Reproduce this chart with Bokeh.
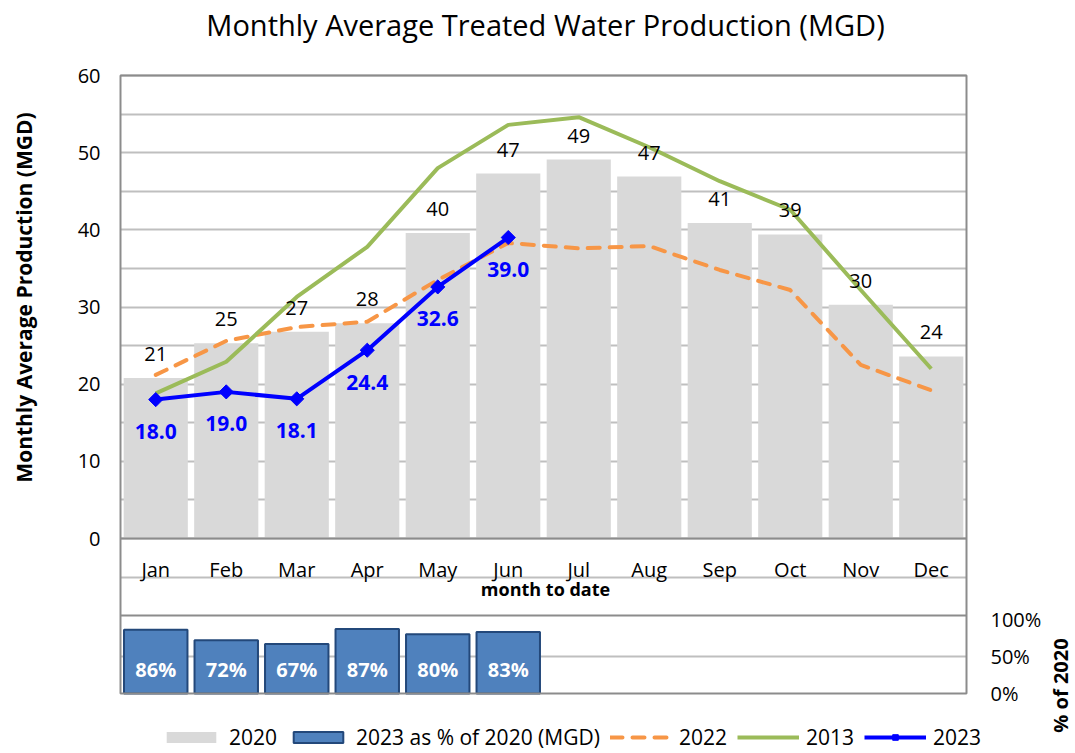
import math
from bokeh.plotting import figure
from bokeh.models import Range1d, FixedTicker, Label, Legend, LegendItem
from bokeh.core.properties import value
from bokeh.embed import file_html
from bokeh.resources import INLINE

# ---------------- data ----------------
months = ["Jan", "Feb", "Mar", "Apr", "May", "Jun", "Jul", "Aug", "Sep", "Oct", "Nov", "Dec"]
prod_2020 = [20.8, 25.3, 26.8, 27.9, 39.6, 47.3, 49.1, 46.9, 40.9, 39.4, 30.3, 23.6]
prod_2022 = [21.2, 25.6, 27.4, 28.1, 33.5, 38.3, 37.6, 37.9, 34.8, 32.2, 22.5, 19.2]
prod_2013 = [18.8, 22.9, 31.3, 37.8, 48.0, 53.6, 54.6, 50.7, 46.3, 42.6, 32.2, 22.0]
prod_2023 = [18.0, 19.0, 18.1, 24.4, 32.6, 39.0]
pct_2023_of_2020 = [86, 72, 67, 87, 80, 83]
y_ticks = [0, 10, 20, 30, 40, 50, 60]
grid_ticks = [0, 5, 10, 15, 20, 25, 30, 35, 40, 45, 50, 55, 60]
pct_ticks = [0, 50, 100]
pct_tick_labels = ["0%", "50%", "100%"]

# ---------------- geometry (canvas pixels) ----------------
FONT = "Open Sans"
W, H = 1075, 753
BOX_L, BOX_R, BOX_T, BOX_B = 120, 966, 75, 693   # outer box of the chart
ZERO_Y = 538                                      # pixel row of value 0
YMAX = 60
PX_PER_UNIT = (ZERO_Y - BOX_T) / YMAX
PCT_PX = 74.0                                     # pixels per 100 %
CAT_PX = (BOX_R - BOX_L) / len(months)


def main_y(px):
    return (ZERO_Y - px) / PX_PER_UNIT


def pct_y(px):
    return (BOX_B - px) / PCT_PX * 100


def cat_x(px):
    return 0.5 + (px - BOX_L) / CAT_PX


xs = [i + 1 for i in range(len(months))]
X_LO, X_HI = cat_x(BOX_L), cat_x(BOX_R)
Y_BOT = main_y(BOX_B)

p = figure(width=W, height=H, x_range=Range1d(cat_x(0), cat_x(W)),
           y_range=Range1d(main_y(H), main_y(0)),
           output_backend="svg", toolbar_location=None,
           x_axis_location=None, y_axis_location=None,
           min_border_left=0, min_border_right=0, min_border_top=0, min_border_bottom=0)
p.title = None
p.extra_y_ranges = {"pct": Range1d(pct_y(H), pct_y(0))}
p.background_fill_color = "white"
p.border_fill_color = "white"
p.outline_line_color = None

GRID_C = "#BFBFBF"
DARK_C = "#8C8C8C"

# horizontal grid lines of the main panel
p.ygrid.ticker = FixedTicker(ticks=grid_ticks)
p.ygrid.grid_line_color = GRID_C
p.ygrid.grid_line_width = 2
p.ygrid.cross_bounds = (X_LO, X_HI)
p.xgrid.grid_line_color = None

# 50 % grid line of the percent panel (behind its bars)
p.segment(x0=X_LO, x1=X_HI, y0=50, y1=50, y_range_name="pct",
          line_color=GRID_C, line_width=2, level="underlay")

# bars
bars2020 = p.vbar(x=xs, top=prod_2020, bottom=0, width=0.91, fill_color="#D9D9D9", line_color=None)
npct = len(pct_2023_of_2020)
bars_pct = p.vbar(x=xs[:npct], top=pct_2023_of_2020, bottom=0, width=0.9,
                  fill_color="#4F81BD", line_color="#23487A", line_width=2, y_range_name="pct")

# box outline and separators
p.segment(x0=X_LO, x1=X_HI, y0=0, y1=0, line_color=DARK_C, line_width=2)
p.segment(x0=X_LO, x1=X_HI, y0=main_y(577), y1=main_y(577), line_color=GRID_C, line_width=2)
p.segment(x0=X_LO, x1=X_HI, y0=main_y(615), y1=main_y(615), line_color=DARK_C, line_width=2)
p.quad(left=X_LO, right=X_HI, bottom=Y_BOT, top=YMAX, fill_color=None,
       line_color=DARK_C, line_width=2)

# lines
l2022 = p.line(x=xs, y=prod_2022, line_color="#F79646", line_width=4,
               line_dash="12 10", line_cap="round")
l2013 = p.line(x=xs, y=prod_2013, line_color="#9BBB59", line_width=4)
n23 = len(prod_2023)
l2023 = p.line(x=xs[:n23], y=prod_2023, line_color="#0000FF", line_width=4)
s2023 = p.scatter(x=xs[:n23], y=prod_2023, marker="square", angle=math.pi / 4,
                  size=10, fill_color="#0000FF", line_color="#0000FF")

# data labels
p.text(x=xs, y=prod_2020, text=[f"{v:.0f}" for v in prod_2020], y_offset=-24,
       text_align="center", text_baseline="middle", text_font=value(FONT),
       text_font_size="20px", text_color="black")
p.text(x=xs[:n23], y=prod_2023, text=[f"{v:.1f}" for v in prod_2023], y_offset=32,
       text_align="center", text_baseline="middle", text_font=value(FONT),
       text_font_size="21px", text_font_style="bold", text_color="#0000FF")
p.text(x=xs[:npct], y=0, text=[f"{v}%" for v in pct_2023_of_2020],
       y_offset=-24, y_range_name="pct", text_align="center", text_baseline="middle",
       text_font=value(FONT), text_font_size="20px", text_font_style="bold", text_color="white")

# category labels
p.text(x=xs, y=0, text=months, y_offset=31, text_align="center", text_baseline="middle",
       text_font=value(FONT), text_font_size="20px", text_color="black")

# tick labels
p.text(x=X_LO, y=y_ticks, text=[str(t) for t in y_ticks], x_offset=-20,
       text_align="right", text_baseline="middle", text_font=value(FONT),
       text_font_size="20px", text_color="black")
p.text(x=X_HI, y=pct_ticks, text=pct_tick_labels, x_offset=24, y_range_name="pct",
       text_align="left", text_baseline="middle", text_font=value(FONT),
       text_font_size="20px", text_color="black")

# titles
p.add_layout(Label(x=cat_x(545), y=main_y(588), text="month to date", text_align="center",
                   text_baseline="middle", text_font=FONT, text_font_size="18px",
                   text_font_style="bold", text_color="black"))
p.add_layout(Label(x=cat_x(545), y=main_y(24),
                   text="Monthly Average Treated Water Production (MGD)", text_align="center",
                   text_baseline="middle", text_font=FONT, text_font_size="29px",
                   text_color="black"))
p.add_layout(Label(x=cat_x(23), y=main_y(297), angle=math.pi / 2,
                   text="Monthly Average Production (MGD)", text_align="center",
                   text_baseline="middle", text_font=FONT, text_font_size="21px",
                   text_font_style="bold", text_color="black"))
p.add_layout(Label(x=cat_x(1060), y=main_y(685), angle=math.pi / 2,
                   text="% of 2020", text_align="center",
                   text_baseline="middle", text_font=FONT, text_font_size="20px",
                   text_font_style="bold", text_color="black"))

legend = Legend(items=[
    LegendItem(label="2020", renderers=[bars2020]),
    LegendItem(label="2023 as % of 2020 (MGD)", renderers=[bars_pct]),
    LegendItem(label="2022", renderers=[l2022]),
    LegendItem(label="2013", renderers=[l2013]),
    LegendItem(label="2023", renderers=[l2023, s2023]),
], location=(160, 2), orientation="horizontal")
legend.padding = 0
legend.margin = 0
legend.border_line_color = None
legend.background_fill_alpha = 0
legend.glyph_width = 62
legend.glyph_height = 14
legend.label_standoff = 7
legend.spacing = 10
legend.label_height = 20
legend.label_text_font = FONT
legend.label_text_font_size = "21px"
legend.label_text_color = "black"
p.add_layout(legend)

open("out.html", "w").write(file_html(p, INLINE))
